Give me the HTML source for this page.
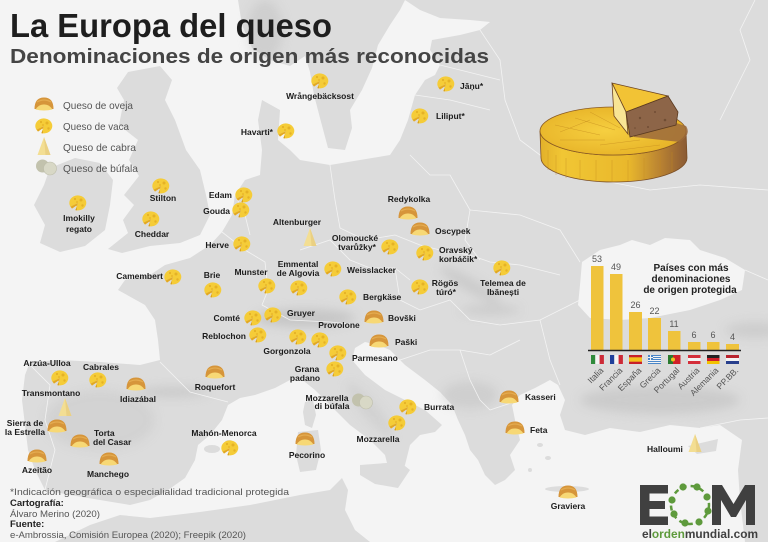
<!DOCTYPE html>
<html>
<head>
<meta charset="utf-8">
<style>
  html,body{margin:0;padding:0;background:#f3f3f3;}
  svg{display:block;}
  .lb{font-family:"Liberation Sans",sans-serif;font-weight:bold;font-size:8.5px;fill:#1c1c1c;}
  .lg{font-family:"Liberation Sans",sans-serif;font-size:10.5px;fill:#555;}
  .ft{font-family:"Liberation Sans",sans-serif;font-size:9.5px;fill:#555;}
  .ftb{font-family:"Liberation Sans",sans-serif;font-size:9.5px;fill:#222;font-weight:bold;}
  .num{font-family:"Liberation Sans",sans-serif;font-size:9px;fill:#555;}
  .cty{font-family:"Liberation Sans",sans-serif;font-size:8.6px;fill:#555;}
  .ct{font-family:"Liberation Sans",sans-serif;font-size:10px;fill:#222;font-weight:bold;}
</style>
</head>
<body>
<svg width="768" height="542" viewBox="0 0 768 542" xmlns="http://www.w3.org/2000/svg">
<defs>
  <filter id="blur" x="-50%" y="-50%" width="200%" height="200%"><feGaussianBlur stdDeviation="5"/></filter>
  <linearGradient id="side" x1="0" y1="0" x2="1" y2="0">
    <stop offset="0" stop-color="#e2b02a"/>
    <stop offset="0.15" stop-color="#f1c634"/>
    <stop offset="0.6" stop-color="#e9b82c"/>
    <stop offset="0.82" stop-color="#b98232"/>
    <stop offset="1" stop-color="#8a5a34"/>
  </linearGradient>
  <radialGradient id="top" cx="0.45" cy="0.5" r="0.6">
    <stop offset="0" stop-color="#f6cf40"/>
    <stop offset="1" stop-color="#e6b126"/>
  </radialGradient>
  <g id="cow">
    <path d="M0,0 L-7.6,3.6 A8.5,7.5 0 1 1 -2.6,7.1 Z" fill="#f5cc38"/>
    <path d="M0,0 L-7.6,3.6 L-6,5.6 L-1.5,2.5 Z" fill="#e3a920"/>
    <path d="M0,0 L-2.6,7.1 L-1,7.4 L-1.5,2.5 Z" fill="#d99c1c"/>
    <circle cx="3" cy="-3" r="1.5" fill="#e5b226"/>
    <circle cx="-3" cy="-4" r="1.1" fill="#e5b226"/>
    <circle cx="4.5" cy="2.5" r="1.2" fill="#e5b226"/>
    <circle cx="-1" cy="-1" r="0.9" fill="#e5b226"/>
  </g>
  <g id="sheep">
    <path d="M-9.5,4 Q-9.5,-7.5 0,-7.5 Q9.5,-7.5 9.5,4 Z" fill="#d6953a"/>
    <path d="M-8.5,4.5 Q-5,-1 0,-0.5 Q5,-1 8.5,4.5 Q0,6.5 -8.5,4.5 Z" fill="#f7d875"/>
    <path d="M-7,-3 Q0,-7 7,-3" fill="none" stroke="#e9b55a" stroke-width="1.2" opacity="0.7"/>
  </g>
  <g id="goat">
    <path d="M0,-10 L6.5,8 L-6.5,8 Z" fill="#f3de93"/>
    <path d="M0,-10 L6.5,8 L1.5,8 Z" fill="#ead083"/>
  </g>
  <g id="buf">
    <circle cx="-3.5" cy="-1" r="6.5" fill="#c2c2ad"/>
    <circle cx="4" cy="1.5" r="6.5" fill="#d8d8c6" stroke="#bdbdaa" stroke-width="0.6"/>
  </g>
</defs>

<!-- sea -->
<rect width="768" height="542" fill="#f4f4f4"/>

<!-- LAND -->
<g fill="#dcdcdc">
  <!-- Scandinavia -->
  <path d="M238,0 L242,25 L252,48 L270,60 L290,66 L305,56 L310,72 L314,95 L320,118 L328,148 L345,150 L352,128 L350,110 L362,90 L372,68 L378,45 L390,25 L400,10 L405,0 Z"/>
  <!-- Ireland -->
  <path d="M50,168 L75,158 L100,163 L113,180 L110,205 L105,230 L85,246 L60,252 L40,243 L45,225 L34,205 L44,185 Z"/>
  <!-- Great Britain -->
  <path d="M128,72 L160,66 L172,80 L165,100 L175,120 L186,150 L200,170 L206,195 L210,215 L200,235 L180,243 L150,246 L122,253 L108,249 L128,233 L123,220 L134,205 L124,195 L139,176 L129,160 L138,140 L119,125 L124,100 L117,88 Z"/>
  <!-- Continent -->
  <path d="M262,100 L280,110 L278,140 L290,150 L300,160 L330,165 L360,160 L390,155 L400,140 L408,120 L415,95 L425,80 L435,75 L440,65 L430,50 L432,40 L460,35 L480,30 L490,22 L470,20 L440,18 L420,10 L405,0 L768,0 L768,542 L745,542 L740,500 L738,470 L742,440 L720,425 L700,428 L670,425 L640,432 L610,428 L585,435 L565,430 L560,415 L565,400 L558,385 L550,380 L535,388 L520,395 L512,405 L515,420 L520,440 L510,455 L515,470 L505,480 L495,485 L485,475 L478,460 L470,450 L465,435 L458,420 L452,405 L440,392 L425,380 L405,365 L390,350 L378,345 L365,342 L355,348 L352,360 L365,375 L385,390 L405,400 L425,410 L442,425 L435,432 L420,435 L410,445 L405,465 L398,480 L390,475 L385,455 L370,440 L350,425 L330,405 L315,390 L300,378 L290,380 L275,388 L255,395 L240,398 L228,405 L222,420 L210,435 L198,445 L195,460 L185,478 L168,490 L150,500 L130,505 L100,500 L70,495 L45,490 L35,470 L28,450 L25,425 L22,400 L25,375 L30,362 L60,360 L100,362 L140,365 L160,360 L158,340 L155,320 L145,305 L118,290 L125,280 L150,275 L165,265 L190,258 L210,245 L222,232 L232,215 L235,195 L245,180 L260,175 L262,150 L258,120 Z"/>
  <!-- Africa -->
  <path d="M55,542 L90,525 L120,515 L150,518 L200,512 L250,505 L300,495 L330,490 L342,478 L348,490 L345,510 L355,530 L370,542 Z"/>
  <!-- Islands -->
  <path d="M305,402 L313,400 L316,415 L312,428 L305,425 L303,412 Z"/>
  <path d="M298,432 L318,430 L321,450 L316,470 L300,472 L296,455 Z"/>
  <path d="M360,465 L400,462 L410,470 L398,488 L375,484 L360,475 Z"/>
  <ellipse cx="212" cy="449" rx="8" ry="4"/>
  <ellipse cx="229" cy="442" rx="4" ry="2"/>
  <ellipse cx="567" cy="489" rx="22" ry="3"/>
  <path d="M688,446 L718,439 L716,451 L697,454 Z"/>
  <ellipse cx="540" cy="445" rx="3" ry="2"/><ellipse cx="548" cy="458" rx="3" ry="2"/><ellipse cx="530" cy="470" rx="2" ry="2"/>
</g>
<!-- Black Sea -->
<path d="M582,262 L600,250 L620,245 L632,240 L650,245 L665,238 L690,240 L700,250 L725,258 L745,270 L742,290 L720,300 L690,310 L650,318 L620,320 L590,318 L578,305 L580,285 Z" fill="#f4f4f4"/>
<path d="M548,381 L556,386 L552,390 L544,386 Z" fill="#f4f4f4"/>

<!-- relief shading -->
<g filter="url(#blur)" fill="#b8b8b8">
  <ellipse cx="305" cy="318" rx="50" ry="9" opacity="0.6"/>
  <ellipse cx="172" cy="392" rx="35" ry="5" opacity="0.5"/>
  <ellipse cx="470" cy="285" rx="35" ry="7" opacity="0.45" transform="rotate(30 470 285)"/>
  <ellipse cx="490" cy="310" rx="30" ry="5" opacity="0.45"/>
  <ellipse cx="470" cy="395" rx="28" ry="14" opacity="0.35"/>
  <ellipse cx="660" cy="400" rx="80" ry="14" opacity="0.45"/>
  <ellipse cx="265" cy="30" rx="18" ry="30" opacity="0.35"/>
  <ellipse cx="100" cy="420" rx="55" ry="30" opacity="0.25"/>
  <ellipse cx="755" cy="330" rx="30" ry="8" opacity="0.4"/>
  <ellipse cx="370" cy="410" rx="8" ry="35" opacity="0.3" transform="rotate(-40 370 410)"/>
</g>

<!-- borders -->
<g fill="none" stroke="#f6f6f6" stroke-width="0.8" opacity="0.9">
  <polyline points="160,362 190,392 228,402"/>
  <polyline points="30,365 50,385 45,420 55,450 45,490"/>
  <polyline points="222,232 245,250 265,262 268,290 262,305"/>
  <polyline points="262,305 290,320 330,322 360,325"/>
  <polyline points="330,165 335,200 340,228 365,240 395,235 420,245 440,250"/>
  <polyline points="235,195 245,215 250,235"/>
  <polyline points="300,250 330,240 350,260 370,268 395,268 410,280"/>
  <polyline points="395,268 400,300 420,310 450,300"/>
  <polyline points="440,250 470,255 490,262 520,265 560,275"/>
  <polyline points="410,155 430,175 450,175 470,210 465,240 480,260"/>
  <polyline points="480,30 500,60 505,100 520,140 560,170 600,180 650,190 700,185 768,190"/>
  <polyline points="440,65 480,75 500,80"/>
  <polyline points="415,95 450,100 490,110"/>
  <polyline points="470,210 520,215 560,230 580,262"/>
  <polyline points="450,300 470,320 500,325 540,320 580,300"/>
  <polyline points="400,360 430,350 460,350 490,355 520,340"/>
  <polyline points="460,350 470,380 480,400 490,410"/>
  <polyline points="490,410 520,400 550,395"/>
  <polyline points="540,320 550,360 560,385"/>
  <polyline points="720,120 735,90 750,60 740,30 755,0"/>
  <polyline points="745,270 768,280"/>
  <polyline points="700,428 740,420 768,418"/>
</g>

<!-- Title -->
<text x="10" y="37" font-family="Liberation Sans, sans-serif" font-weight="bold" font-size="33" fill="#1e1e1e" textLength="322" lengthAdjust="spacingAndGlyphs">La Europa del queso</text>
<text x="10" y="63" font-family="Liberation Sans, sans-serif" font-weight="bold" font-size="20" fill="#444" textLength="479" lengthAdjust="spacingAndGlyphs">Denominaciones de origen más reconocidas</text>

<!-- Legend -->
<use href="#sheep" x="44" y="105"/>
<use href="#cow" x="44" y="126"/>
<use href="#goat" x="44" y="147"/>
<use href="#buf" x="46" y="167"/>
<text class="lg" x="63" y="109" textLength="70" lengthAdjust="spacingAndGlyphs">Queso de oveja</text>
<text class="lg" x="63" y="130" textLength="66" lengthAdjust="spacingAndGlyphs">Queso de vaca</text>
<text class="lg" x="63" y="151" textLength="73" lengthAdjust="spacingAndGlyphs">Queso de cabra</text>
<text class="lg" x="63" y="172" textLength="75" lengthAdjust="spacingAndGlyphs">Queso de búfala</text>

<!-- Big cheese -->
<g>
  <path d="M540,131 A73,24 0 0 0 686,131 L687,158 A73,24 0 0 1 541,158 Z" fill="url(#side)" stroke="#7a4e26" stroke-width="0.8"/>
  <ellipse cx="613" cy="131" rx="73" ry="24" fill="url(#top)" stroke="#8a5a24" stroke-width="0.8"/>
  <path d="M640,112 L686,126 A73,24 0 0 1 680,142 L634,137 Z" fill="#9b6a3c" opacity="0.85"/>
  <g stroke="#c38a1e" stroke-width="0.5" opacity="0.7" fill="none">
    <path d="M555,125 L600,135 M560,140 L605,140 M575,118 L615,130 M590,112 L620,128 M560,132 L590,120 M600,145 L640,140 M620,150 L660,145"/>
    <path d="M548,150 L548,170 M556,155 L556,175 M566,158 L566,178 M580,160 L580,180 M596,160 L596,182 M612,160 L612,182 M628,160 L628,181 M644,158 L644,179 M660,155 L660,176 M672,152 L672,172"/>
  </g>
  <path d="M612,83 L668,96 L626,112 Z" fill="#f2c335" stroke="#6b4220" stroke-width="0.8"/>
  <path d="M612,83 L626,112 L628,134 L614,116 Z" fill="#f8e594" stroke="#6b4220" stroke-width="0.8"/>
  <path d="M626,112 L668,96 L678,112 L676,125 L630,137 Z" fill="#8d6548" stroke="#5a3a20" stroke-width="0.8"/>
  <g fill="#5e3e28" opacity="0.6">
    <circle cx="640" cy="118" r="1.2"/><circle cx="655" cy="112" r="1"/><circle cx="665" cy="120" r="1.3"/><circle cx="648" cy="127" r="1"/><circle cx="635" cy="128" r="0.8"/>
  </g>
</g>

<!-- Map icons -->
<use href="#cow" x="320" y="81"/>
<use href="#cow" x="286" y="131"/>
<use href="#cow" x="446" y="84"/>
<use href="#cow" x="420" y="116"/>
<use href="#cow" x="161" y="186"/>
<use href="#cow" x="78" y="203"/>
<use href="#cow" x="151" y="219"/>
<use href="#cow" x="244" y="195"/>
<use href="#cow" x="241" y="210"/>
<use href="#goat" x="310" y="238"/>
<use href="#cow" x="242" y="244"/>
<use href="#cow" x="173" y="277"/>
<use href="#cow" x="213" y="290"/>
<use href="#cow" x="267" y="286"/>
<use href="#cow" x="299" y="288"/>
<use href="#cow" x="390" y="247"/>
<use href="#sheep" x="408" y="214"/>
<use href="#sheep" x="420" y="230"/>
<use href="#cow" x="425" y="253"/>
<use href="#cow" x="333" y="269"/>
<use href="#cow" x="420" y="287"/>
<use href="#cow" x="502" y="268"/>
<use href="#cow" x="348" y="297"/>
<use href="#sheep" x="374" y="318"/>
<use href="#sheep" x="379" y="342"/>
<use href="#cow" x="253" y="318"/>
<use href="#cow" x="273" y="315"/>
<use href="#cow" x="258" y="335"/>
<use href="#cow" x="298" y="337"/>
<use href="#cow" x="320" y="340"/>
<use href="#cow" x="338" y="353"/>
<use href="#cow" x="335" y="369"/>
<use href="#sheep" x="215" y="373"/>
<use href="#cow" x="60" y="378"/>
<use href="#cow" x="98" y="380"/>
<use href="#sheep" x="136" y="385"/>
<use href="#goat" x="65" y="408"/>
<use href="#sheep" x="57" y="427"/>
<use href="#sheep" x="80" y="442"/>
<use href="#sheep" x="37" y="457"/>
<use href="#sheep" x="109" y="460"/>
<use href="#cow" x="230" y="448"/>
<use href="#sheep" x="305" y="440"/>
<use href="#buf" x="362" y="401"/>
<use href="#cow" x="408" y="407"/>
<use href="#cow" x="397" y="423"/>
<use href="#sheep" x="509" y="398"/>
<use href="#sheep" x="515" y="429"/>
<use href="#goat" x="695" y="444"/>
<use href="#sheep" x="568" y="493"/>

<!-- Map labels -->
<text class="lb" x="320" y="99" text-anchor="middle">Wrångebäcksost</text>
<text class="lb" x="273" y="135" text-anchor="end">Havarti*</text>
<text class="lb" x="460" y="89">Jāņu*</text>
<text class="lb" x="436" y="119">Liliput*</text>
<text class="lb" x="163" y="201" text-anchor="middle">Stilton</text>
<text class="lb" x="79" y="221" text-anchor="middle">Imokilly</text>
<text class="lb" x="79" y="232" text-anchor="middle">regato</text>
<text class="lb" x="152" y="237" text-anchor="middle">Cheddar</text>
<text class="lb" x="232" y="198" text-anchor="end">Edam</text>
<text class="lb" x="230" y="214" text-anchor="end">Gouda</text>
<text class="lb" x="297" y="225" text-anchor="middle">Altenburger</text>
<text class="lb" x="229" y="248" text-anchor="end">Herve</text>
<text class="lb" x="163" y="279" text-anchor="end">Camembert</text>
<text class="lb" x="212" y="278" text-anchor="middle">Brie</text>
<text class="lb" x="251" y="275" text-anchor="middle">Munster</text>
<text class="lb" x="298" y="267" text-anchor="middle">Emmental</text>
<text class="lb" x="298" y="276" text-anchor="middle">de Algovia</text>
<text class="lb" x="355" y="241" text-anchor="middle">Olomoucké</text>
<text class="lb" x="357" y="250" text-anchor="middle">tvarůžky*</text>
<text class="lb" x="409" y="202" text-anchor="middle">Redykolka</text>
<text class="lb" x="435" y="234">Oscypek</text>
<text class="lb" x="439" y="253">Oravský</text>
<text class="lb" x="439" y="262">korbáčik*</text>
<text class="lb" x="347" y="273">Weisslacker</text>
<text class="lb" x="445" y="286" text-anchor="middle">Rögös</text>
<text class="lb" x="446" y="295" text-anchor="middle">túró*</text>
<text class="lb" x="503" y="286" text-anchor="middle">Telemea de</text>
<text class="lb" x="503" y="295" text-anchor="middle">Ibănești</text>
<text class="lb" x="363" y="300">Bergkäse</text>
<text class="lb" x="388" y="321">Bovški</text>
<text class="lb" x="395" y="345">Paški</text>
<text class="lb" x="240" y="321" text-anchor="end">Comté</text>
<text class="lb" x="287" y="316">Gruyer</text>
<text class="lb" x="246" y="339" text-anchor="end">Reblochon</text>
<text class="lb" x="339" y="328" text-anchor="middle">Provolone</text>
<text class="lb" x="287" y="354" text-anchor="middle">Gorgonzola</text>
<text class="lb" x="352" y="361">Parmesano</text>
<text class="lb" x="307" y="372" text-anchor="middle">Grana</text>
<text class="lb" x="305" y="381" text-anchor="middle">padano</text>
<text class="lb" x="215" y="390" text-anchor="middle">Roquefort</text>
<text class="lb" x="47" y="366" text-anchor="middle">Arzúa-Ulloa</text>
<text class="lb" x="101" y="370" text-anchor="middle">Cabrales</text>
<text class="lb" x="138" y="402" text-anchor="middle">Idiazábal</text>
<text class="lb" x="51" y="396" text-anchor="middle">Transmontano</text>
<text class="lb" x="25" y="426" text-anchor="middle">Sierra de</text>
<text class="lb" x="25" y="435" text-anchor="middle">la Estrella</text>
<text class="lb" x="94" y="436">Torta</text>
<text class="lb" x="93" y="445">del Casar</text>
<text class="lb" x="37" y="473" text-anchor="middle">Azeitão</text>
<text class="lb" x="108" y="477" text-anchor="middle">Manchego</text>
<text class="lb" x="224" y="436" text-anchor="middle">Mahón-Menorca</text>
<text class="lb" x="307" y="458" text-anchor="middle">Pecorino</text>
<text class="lb" x="327" y="401" text-anchor="middle">Mozzarella</text>
<text class="lb" x="332" y="409" text-anchor="middle">di búfala</text>
<text class="lb" x="424" y="410">Burrata</text>
<text class="lb" x="378" y="442" text-anchor="middle">Mozzarella</text>
<text class="lb" x="525" y="400">Kasseri</text>
<text class="lb" x="530" y="433">Feta</text>
<text class="lb" x="647" y="452">Halloumi</text>
<text class="lb" x="568" y="509" text-anchor="middle">Graviera</text>

<!-- Bar chart -->
<g fill="#efc33c">
  <rect x="591" y="266" width="12.5" height="84"/>
  <rect x="610" y="274" width="12.5" height="76"/>
  <rect x="629" y="312" width="13" height="38"/>
  <rect x="648" y="318" width="13" height="32"/>
  <rect x="668" y="331" width="12.5" height="19"/>
  <rect x="688" y="342" width="12.5" height="8"/>
  <rect x="707" y="342" width="12.5" height="8"/>
  <rect x="726" y="344" width="13" height="6"/>
</g>
<line x1="588" y1="350.5" x2="741" y2="350.5" stroke="#222" stroke-width="1.5"/>
<g class="num" text-anchor="middle">
  <text x="597" y="262">53</text>
  <text x="616" y="270">49</text>
  <text x="635.5" y="308">26</text>
  <text x="654.5" y="314">22</text>
  <text x="674" y="327">11</text>
  <text x="694" y="338">6</text>
  <text x="713" y="338">6</text>
  <text x="732.5" y="340">4</text>
</g>
<text class="ct" x="691" y="271" text-anchor="middle">Países con más</text>
<text class="ct" x="691" y="282" text-anchor="middle">denominaciones</text>
<text class="ct" x="690" y="293" text-anchor="middle">de origen protegida</text>

<!-- Flags -->
<g>
  <rect x="591" y="355" width="4.3" height="9" fill="#2f8a3b"/><rect x="595.3" y="355" width="4.3" height="9" fill="#f4f4f4"/><rect x="599.6" y="355" width="4.3" height="9" fill="#cd2a36"/>
  <rect x="610" y="355" width="4.3" height="9" fill="#1f3f9a"/><rect x="614.3" y="355" width="4.3" height="9" fill="#f4f4f4"/><rect x="618.6" y="355" width="4.3" height="9" fill="#cd2a36"/>
  <rect x="629" y="355" width="13" height="9" fill="#c8202a"/><rect x="629" y="357.3" width="13" height="4.4" fill="#f3c21c"/>
  <rect x="648" y="355" width="13" height="9" fill="#4a86c8"/>
  <rect x="648" y="356" width="13" height="1" fill="#f4f4f4"/><rect x="648" y="358" width="13" height="1" fill="#f4f4f4"/><rect x="648" y="360" width="13" height="1" fill="#f4f4f4"/><rect x="648" y="362" width="13" height="1" fill="#f4f4f4"/>
  <rect x="648" y="355" width="5" height="5" fill="#4a86c8"/><rect x="648" y="357" width="5" height="1" fill="#f4f4f4"/><rect x="650" y="355" width="1" height="5" fill="#f4f4f4"/>
  <rect x="668" y="355" width="5" height="9" fill="#2a7a2e"/><rect x="673" y="355" width="7.5" height="9" fill="#d0202a"/><circle cx="673" cy="359.5" r="2" fill="#f2c31d"/>
  <rect x="688" y="355" width="12.5" height="9" fill="#d42e3a"/><rect x="688" y="358" width="12.5" height="3" fill="#f4f4f4"/>
  <rect x="707" y="355" width="12.5" height="3" fill="#222"/><rect x="707" y="358" width="12.5" height="3" fill="#d0202a"/><rect x="707" y="361" width="12.5" height="3" fill="#f2c200"/>
  <rect x="726" y="355" width="13" height="3" fill="#b8242e"/><rect x="726" y="358" width="13" height="3" fill="#f4f4f4"/><rect x="726" y="361" width="13" height="3" fill="#283f8c"/>
</g>
<g class="cty" text-anchor="end">
  <text x="604" y="371" transform="rotate(-45 604 371)">Italia</text>
  <text x="623" y="371" transform="rotate(-45 623 371)">Francia</text>
  <text x="642" y="371" transform="rotate(-45 642 371)">España</text>
  <text x="661" y="371" transform="rotate(-45 661 371)">Grecia</text>
  <text x="680" y="371" transform="rotate(-45 680 371)">Portugal</text>
  <text x="700" y="371" transform="rotate(-45 700 371)">Austria</text>
  <text x="719" y="371" transform="rotate(-45 719 371)">Alemania</text>
  <text x="739" y="371" transform="rotate(-45 739 371)">PP.BB.</text>
</g>

<!-- Footer -->
<text class="ft" x="10" y="495" textLength="279" lengthAdjust="spacingAndGlyphs">*Indicación geográfica o especialialidad tradicional protegida</text>
<text class="ftb" x="10" y="506">Cartografía:</text>
<text class="ft" x="10" y="517" textLength="90" lengthAdjust="spacingAndGlyphs">Álvaro Merino (2020)</text>
<text class="ftb" x="10" y="527">Fuente:</text>
<text class="ft" x="10" y="538" textLength="236" lengthAdjust="spacingAndGlyphs">e-Ambrossia, Comisión Europea (2020); Freepik (2020)</text>

<!-- EOM logo -->
<g fill="#404040">
  <rect x="640" y="485" width="28" height="8.5"/>
  <rect x="640" y="485" width="9.5" height="40"/>
  <rect x="640" y="501" width="25" height="8"/>
  <rect x="640" y="516.5" width="28" height="8.5"/>
  <path d="M712,525 L712,485 L722,485 L733.5,504 L745,485 L755,485 L755,525 L746,525 L746,500 L736,517 L731,517 L721,500 L721,525 Z"/>
</g>
<g>
  <circle cx="690" cy="505" r="19" fill="none" stroke="#5e9a3c" stroke-width="2.5" stroke-dasharray="5 4"/>
  <g fill="#5e9a3c">
    <circle cx="683" cy="487" r="3.6"/>
    <circle cx="697" cy="487" r="3.6"/>
    <circle cx="707" cy="497" r="3.6"/>
    <circle cx="708" cy="511" r="3.6"/>
    <circle cx="699" cy="522" r="3.6"/>
    <circle cx="685" cy="523" r="3.6"/>
    <circle cx="674" cy="514" r="3.6"/>
    <circle cx="672" cy="500" r="3.6"/>
  </g>
</g>
<text x="642" y="538" font-family="Liberation Sans, sans-serif" font-weight="bold" font-size="12" fill="#404040" textLength="116" lengthAdjust="spacingAndGlyphs">el<tspan fill="#5e9a3c">orden</tspan>mundial.com</text>
</svg>
</body>
</html>
